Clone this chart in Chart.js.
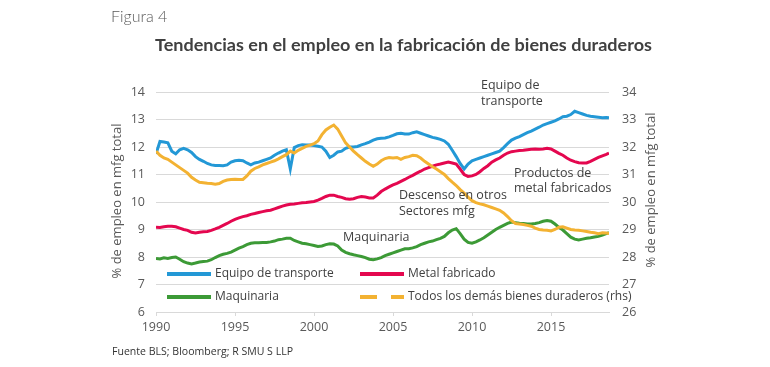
<!DOCTYPE html>
<html>
<head>
<meta charset="utf-8">
<script src="https://cdn.jsdelivr.net/npm/chart.js@4.4.1/dist/chart.umd.min.js"></script>
<style>
  html, body { margin: 0; padding: 0; background: #fff; }
  #wrap { width: 770px; height: 367px; }
</style>
</head>
<body>
<div id="wrap"><canvas id="chart" width="770" height="367"></canvas></div>
<script>
// Datos (trimestrales, 1990 - mediados de 2018)
var periods = [];
for (var q = 0; q < 115; q++) periods.push(1990 + q / 4);
periods.push(2018.67);

var xTicks = [1990, 1995, 2000, 2005, 2010, 2015];

var transporte = [
  11.75, 12.2, 12.18, 12.15,  11.85, 11.75, 11.9, 11.95,  11.9, 11.8, 11.65, 11.55,
  11.48, 11.4, 11.35, 11.33,  11.33, 11.32, 11.35, 11.45,  11.5, 11.52, 11.5, 11.42,
  11.35, 11.42, 11.45, 11.5,  11.55, 11.6, 11.7, 11.78,  11.85, 11.9, 11.2, 11.98,
  12.05, 12.08, 12.07, 12.07,  12.05, 12.03, 12.0, 11.85,  11.62, 11.7, 11.82, 11.85,
  11.95, 12.0, 12.0, 12.02,  12.08, 12.12, 12.18, 12.25,  12.3, 12.32, 12.33, 12.37,
  12.42, 12.48, 12.5, 12.47,  12.47, 12.52, 12.55, 12.5,  12.45, 12.4, 12.35, 12.32,
  12.28, 12.22, 12.1, 11.88,  11.65, 11.4, 11.2, 11.38,  11.5, 11.55, 11.6, 11.65,
  11.7, 11.75, 11.8, 11.85,  11.98, 12.12, 12.25, 12.32,  12.38, 12.45, 12.52, 12.58,
  12.65, 12.72, 12.8, 12.85,  12.9, 12.95, 13.02, 13.1,  13.12, 13.18, 13.3, 13.25,
  13.2, 13.15, 13.12, 13.1,  13.08, 13.06, 13.07, 13.06
];
var metal = [
  9.08, 9.07, 9.1, 9.12,  9.12, 9.1, 9.05, 9.0,  8.97, 8.9, 8.87, 8.9,
  8.92, 8.93, 8.97, 9.02,  9.08, 9.15, 9.22, 9.3,  9.37, 9.42, 9.47, 9.5,
  9.55, 9.58, 9.62, 9.65,  9.68, 9.7, 9.75, 9.8,  9.85, 9.89, 9.92, 9.93,
  9.95, 9.97, 9.98, 10.0,  10.02, 10.07, 10.13, 10.2,  10.25, 10.25, 10.2, 10.17,
  10.12, 10.1, 10.12, 10.17,  10.2, 10.18, 10.15, 10.15,  10.25, 10.38, 10.47, 10.55,
  10.62, 10.68, 10.75, 10.82,  10.9, 10.97, 11.05, 11.12,  11.2, 11.25, 11.3, 11.35,
  11.38, 11.42, 11.45, 11.42,  11.38, 11.2, 11.0, 10.93,  10.95, 11.0, 11.1, 11.22,
  11.32, 11.45, 11.53, 11.6,  11.7, 11.78, 11.83, 11.85,  11.87, 11.88, 11.9, 11.92,
  11.93, 11.92, 11.93, 11.95,  11.93, 11.85, 11.77, 11.7,  11.6, 11.52, 11.47, 11.43,
  11.42, 11.42, 11.48, 11.55,  11.62, 11.68, 11.73, 11.78
];
var maquinaria = [
  7.95, 7.93, 7.97, 7.95,  7.98, 8.0, 7.92, 7.83,  7.78, 7.75, 7.78, 7.82,
  7.84, 7.85, 7.9, 7.98,  8.05, 8.1, 8.13, 8.18,  8.25, 8.32, 8.38, 8.45,
  8.5, 8.52, 8.52, 8.53,  8.53, 8.55, 8.58, 8.63,  8.65, 8.68, 8.68, 8.6,
  8.55, 8.5, 8.48, 8.45,  8.42, 8.38, 8.4, 8.45,  8.48, 8.47, 8.4, 8.25,
  8.17, 8.12, 8.08, 8.05,  8.02, 7.98, 7.92, 7.9,  7.93, 7.98, 8.05, 8.1,
  8.15, 8.2, 8.25, 8.3,  8.3, 8.33, 8.38, 8.45,  8.5, 8.55, 8.58, 8.63,
  8.68, 8.75, 8.88, 8.98,  9.03, 8.85, 8.65, 8.53,  8.5, 8.55, 8.62, 8.7,
  8.8, 8.9, 9.0, 9.08,  9.15, 9.22, 9.27, 9.25,  9.23, 9.22, 9.2, 9.2,
  9.22, 9.25, 9.3, 9.33,  9.3, 9.2, 9.08, 8.98,  8.85, 8.72, 8.65, 8.62,
  8.65, 8.68, 8.7, 8.73,  8.75, 8.8, 8.85, 8.88
];
// eje derecho (rhs)
var otrosDuraderos = [
  31.85, 31.7, 31.6, 31.55,  31.45, 31.35, 31.25, 31.15,  31.05, 30.9, 30.8, 30.72,
  30.7, 30.68, 30.67, 30.65,  30.67, 30.75, 30.8, 30.82,  30.83, 30.82, 30.82, 30.95,
  31.12, 31.22, 31.28, 31.35,  31.4, 31.45, 31.5, 31.57,  31.65, 31.72, 31.85, 31.78,
  31.88, 31.95, 32.02, 32.07,  32.12, 32.22, 32.45, 32.62,  32.72, 32.8, 32.65, 32.4,
  32.15, 32.0, 31.85, 31.72,  31.6, 31.48, 31.38, 31.3,  31.38, 31.5, 31.58, 31.62,
  31.6, 31.62, 31.55, 31.62,  31.65, 31.7, 31.68, 31.6,  31.48, 31.38, 31.28, 31.2,
  31.1, 31.0, 30.85, 30.72,  30.6, 30.45, 30.32, 30.18,  30.05, 29.98, 29.93, 29.9,
  29.85, 29.8, 29.75, 29.7,  29.6, 29.47, 29.32, 29.22,  29.2, 29.18, 29.15, 29.12,
  29.05, 29.0, 28.98, 28.97,  28.95, 29.0, 29.08, 29.1,  29.05, 29.0, 28.98, 28.97,
  28.95, 28.93, 28.9, 28.88,  28.85, 28.88, 28.87, 28.85
];

var BLUE = '#2398d6', RED = '#e4074f', GREEN = '#3c9a36', YELLOW = '#f3b232';
var TXT = '#404040', TICK = '#595959', GRID = '#d9d9d9';

Chart.defaults.font.family = "'Open Sans', sans-serif";
Chart.defaults.color = TICK;

function pts(vals) {
  return vals.map(function (v, i) { return { x: periods[i], y: v }; });
}

// escribe un texto ajustado a un ancho dado
function fitText(ctx, str, x, y, width) {
  var w = ctx.measureText(str).width;
  ctx.save();
  ctx.translate(x, y);
  ctx.scale(width / w, 1);
  ctx.fillText(str, 0, 0);
  ctx.restore();
}

// textos extra: titulo, fuente, ejes, leyenda y notas
var extraText = {
  id: 'extraText',
  afterDraw: function (chart) {
    var ctx = chart.ctx;
    ctx.save();
    ctx.textBaseline = 'middle';
    ctx.textAlign = 'left';

    ctx.fillStyle = '#595959';
    ctx.font = "300 16px Lato, sans-serif";
    ctx.fillText('Figura 4', 111, 17);

    ctx.fillStyle = TXT;
    ctx.font = "bold 17.5px Lato, sans-serif";
    fitText(ctx, 'Tendencias en el empleo en la fabricación de bienes duraderos', 155, 45, 497);

    ctx.fillStyle = '#333';
    ctx.font = "10.5px 'Open Sans', sans-serif";
    fitText(ctx, 'Fuente BLS; Bloomberg; R SMU S LLP', 112, 352, 181);

    // titulos de ejes
    ctx.fillStyle = TICK;
    ctx.font = "13px 'Open Sans', sans-serif";
    ctx.textAlign = 'center';
    ctx.save();
    ctx.translate(117, 201);
    ctx.rotate(-Math.PI / 2);
    ctx.fillText('% de empleo en mfg total', 0, 0);
    ctx.restore();
    ctx.save();
    ctx.translate(651, 190);
    ctx.rotate(-Math.PI / 2);
    ctx.fillText('% de empleo en mfg total', 0, 0);
    ctx.restore();

    // leyenda
    ctx.textAlign = 'left';
    ctx.font = "12px 'Open Sans', sans-serif";
    var items = [
      { ds: 0, x: 167, y: 274 },
      { ds: 1, x: 360, y: 274 },
      { ds: 2, x: 167, y: 297 },
      { ds: 3, x: 360, y: 297, dash: [17, 14] }
    ];
    items.forEach(function (it) {
      var ds = chart.data.datasets[it.ds];
      ctx.strokeStyle = ds.borderColor;
      ctx.lineWidth = 4;
      ctx.setLineDash(it.dash || []);
      ctx.beginPath();
      ctx.moveTo(it.x, it.y);
      ctx.lineTo(it.x + 44, it.y);
      ctx.stroke();
      ctx.setLineDash([]);
      ctx.fillStyle = TXT;
      ctx.fillText(ds.label, it.x + 48, it.y);
    });

    // notas
    ctx.font = "12.5px 'Open Sans', sans-serif";
    ctx.fillStyle = TXT;
    ctx.fillText('Equipo de', 481, 85);
    ctx.fillText('transporte', 481, 101);
    ctx.fillText('Productos de', 514, 173);
    ctx.fillText('metal fabricados', 514, 188);
    ctx.fillText('Descenso en otros', 399, 195);
    ctx.fillText('Sectores mfg', 399, 211);
    ctx.fillText('Maquinaria', 343, 237);
    ctx.restore();
  }
};

var ctx = document.getElementById('chart').getContext('2d');
var chart = new Chart(ctx, {
  type: 'line',
  data: {
    datasets: [
      { label: 'Equipo de transporte', data: pts(transporte), borderColor: BLUE, yAxisID: 'y', order: 2 },
      { label: 'Metal fabricado', data: pts(metal), borderColor: RED, yAxisID: 'y', order: 3 },
      { label: 'Maquinaria', data: pts(maquinaria), borderColor: GREEN, yAxisID: 'y', order: 4 },
      { label: 'Todos los demás bienes duraderos (rhs)', data: pts(otrosDuraderos), borderColor: YELLOW, yAxisID: 'y2', order: 1 }
    ]
  },
  options: {
    responsive: false,
    animation: false,
    devicePixelRatio: 1,
    layout: { padding: { left: 116, right: 121, top: 92, bottom: 25 } },
    elements: {
      line: { borderWidth: 3, tension: 0, fill: false },
      point: { radius: 0 }
    },
    plugins: { legend: { display: false }, tooltip: { enabled: false } },
    scales: {
      x: {
        type: 'linear',
        min: 1990,
        max: 2018.67,
        afterBuildTicks: function (s) { s.ticks = xTicks.map(function (v) { return { value: v }; }); },
        afterFit: function (s) { s.height = 30; },
        grid: { drawOnChartArea: false, drawTicks: true, tickLength: 4, color: GRID },
        border: { display: true, color: GRID },
        ticks: { font: { size: 12.5 }, color: TICK, padding: 4, maxRotation: 0, callback: function (v) { return String(v); } }
      },
      y: {
        position: 'left',
        min: 6,
        max: 14,
        afterFit: function (s) { s.width = 40; },
        grid: { color: GRID, drawTicks: false },
        border: { display: false },
        ticks: { stepSize: 1, font: { size: 12.5 }, color: TICK, padding: 11 }
      },
      y2: {
        position: 'right',
        min: 26,
        max: 34,
        afterFit: function (s) { s.width = 40; },
        grid: { drawOnChartArea: false, drawTicks: false },
        border: { display: false },
        ticks: { stepSize: 1, font: { size: 12.5 }, color: TICK, padding: 13 }
      }
    }
  },
  plugins: [extraText]
});
</script>
</body>
</html>
